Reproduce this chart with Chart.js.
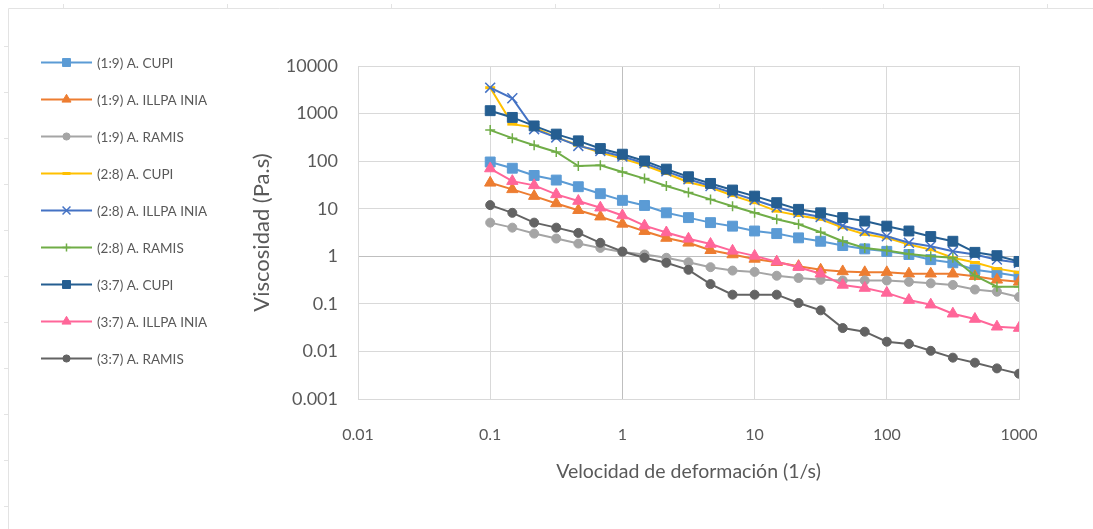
<!DOCTYPE html>
<html>
<head>
<meta charset="utf-8">
<script src="https://cdn.jsdelivr.net/npm/chart.js@4.4.1/dist/chart.umd.min.js"></script>
<style>
  html, body { margin: 0; padding: 0; background: #fff; }
</style>
</head>
<body>
<canvas id="chart" width="1093" height="529"></canvas>
<script>
// shear rate (1/s), 6 points per decade
const shearRate = [0.1, 0.147, 0.215, 0.316, 0.464, 0.681, 1, 1.47, 2.15, 3.16, 4.64, 6.81,
  10, 14.7, 21.5, 31.6, 46.4, 68.1, 100, 147, 215, 316, 464, 681, 1000]

// viscosity (Pa.s)
const cupi19 = [96, 71, 50, 40, 29, 20.7, 15, 11.7, 8.2, 6.5, 5.1, 4.3, 3.4, 3.0, 2.44, 2.07,
  1.68, 1.43, 1.27, 1.09, 0.85, 0.73, 0.52, 0.45, 0.38]
const illpa19 = [35, 25.5, 18.4, 12.9, 9.3, 6.8, 4.8, 3.37, 2.42, 1.92, 1.34, 1.09, 0.88, 0.75,
  0.62, 0.52, 0.48, 0.46, 0.46, 0.43, 0.43, 0.43, 0.38, 0.32, 0.29]
const ramis19 = [5.1, 4.0, 3.0, 2.36, 1.85, 1.5, 1.23, 1.09, 0.93, 0.75, 0.59, 0.5, 0.47, 0.39,
  0.35, 0.32, 0.31, 0.31, 0.31, 0.29, 0.27, 0.25, 0.2, 0.18, 0.14]
const cupi28 = [3500, 600, 510, 315, 216, 152, 113, 82, 55, 36, 28, 19, 13.4, 8.9, 7.2, 6.0,
  4.0, 2.9, 2.44, 1.77, 1.38, 0.93, 0.74, 0.55, 0.46]
const illpa28 = [3500, 2100, 470, 315, 209, 164, 125, 90, 61, 41.5, 30, 21.5, 15.3, 10.7, 8.2,
  6.7, 4.4, 3.37, 2.64, 1.92, 1.63, 1.27, 1.09, 0.85, 0.73]
const ramis28 = [450, 304, 216, 156, 79, 82, 59, 43, 30, 21.8, 15.7, 11.3, 8.2, 6.0, 4.7, 3.2,
  2.07, 1.5, 1.32, 1.12, 1.0, 0.93, 0.39, 0.23, 0.23]
const cupi37 = [1150, 830, 550, 370, 267, 184, 140, 101, 68, 47, 34, 24.7, 18.4, 13.4, 9.7, 8.2,
  6.5, 5.5, 4.3, 3.4, 2.6, 2.07, 1.21, 1.03, 0.78]
const illpa37 = [70, 38, 31, 20, 14.5, 10.5, 7.2, 4.4, 3.16, 2.33, 1.81, 1.3, 1.02, 0.77, 0.59,
  0.43, 0.25, 0.215, 0.17, 0.12, 0.096, 0.062, 0.048, 0.033, 0.031]
const ramis37 = [11.9, 8.2, 5.1, 4.0, 3.1, 1.92, 1.26, 0.93, 0.73, 0.52, 0.26, 0.156, 0.156,
  0.156, 0.104, 0.073, 0.031, 0.026, 0.016, 0.0144, 0.0103, 0.0074, 0.0058, 0.0044, 0.0034]

const xTicks = [0.01, 0.1, 1, 10, 100, 1000]
const yTicks = [0.001, 0.01, 0.1, 1, 10, 100, 1000, 10000]

const textColor = '#595959'
const gridColor = '#D9D9D9'
const fontFamily = 'Lato, sans-serif'

const series = [
  { label: '(1:9) A. CUPI', values: cupi19, color: '#5B9BD5', marker: 'rect', size: 7 },
  { label: '(1:9) A. ILLPA INIA', values: illpa19, color: '#ED7D31', marker: 'triangle', size: 6.5 },
  { label: '(1:9) A. RAMIS', values: ramis19, color: '#A5A5A5', marker: 'circle', size: 4.5 },
  { label: '(2:8) A. CUPI', values: cupi28, color: '#FFC000', marker: 'line', size: 5 },
  { label: '(2:8) A. ILLPA INIA', values: illpa28, color: '#4472C4', marker: 'crossRot', size: 7 },
  { label: '(2:8) A. RAMIS', values: ramis28, color: '#70AD47', marker: 'cross', size: 5 },
  { label: '(3:7) A. CUPI', values: cupi37, color: '#255E91', marker: 'rect', size: 7 },
  { label: '(3:7) A. ILLPA INIA', values: illpa37, color: '#FF6699', marker: 'triangle', size: 6.5 },
  { label: '(3:7) A. RAMIS', values: ramis37, color: '#636363', marker: 'circle', size: 4.5 }
]

const datasets = series.map((s, i) => ({
  label: s.label,
  data: shearRate.map((x, j) => ({ x: x, y: s.values[j] })),
  borderColor: s.color,
  backgroundColor: s.color,
  borderWidth: 2,
  pointStyle: s.marker,
  pointRadius: s.size,
  pointBackgroundColor: s.color,
  pointBorderColor: s.color,
  pointBorderWidth: s.marker === 'line' ? 3 : (s.marker === 'cross' || s.marker === 'crossRot' ? 1.5 : 1),
  tension: 0,
  order: series.length - i
}))

// excel-like frame + legend on the left
const sheetFrame = {
  id: 'sheetFrame',
  beforeDraw(chart) {
    const ctx = chart.ctx
    ctx.save()
    ctx.fillStyle = '#fff'
    ctx.fillRect(0, 0, chart.width, chart.height)
    ctx.strokeStyle = '#E3E3E3'
    ctx.lineWidth = 1
    ctx.beginPath()
    ctx.moveTo(8.5, 529); ctx.lineTo(8.5, 8.5); ctx.lineTo(1093, 8.5)
    for (let x = 63; x < 1093; x += 164) { ctx.moveTo(x + 0.5, 4); ctx.lineTo(x + 0.5, 8) }
    for (let y = 46; y < 529; y += 46) { ctx.moveTo(4, y + 0.5); ctx.lineTo(8, y + 0.5) }
    ctx.stroke()
    ctx.restore()
  }
}

const sideLegend = {
  id: 'sideLegend',
  afterDraw(chart) {
    const ctx = chart.ctx
    chart.data.datasets.forEach((ds, i) => {
      const y = 62.5 + i * 37
      ctx.save()
      ctx.strokeStyle = ds.borderColor
      ctx.lineWidth = 2
      ctx.beginPath()
      ctx.moveTo(41, y)
      ctx.lineTo(92, y)
      ctx.stroke()
      ctx.fillStyle = ds.pointBackgroundColor
      ctx.strokeStyle = ds.pointBorderColor
      ctx.lineWidth = ds.pointBorderWidth
      Chart.helpers.drawPoint(ctx, {
        pointStyle: ds.pointStyle,
        radius: ds.pointRadius * 0.8,
        borderWidth: ds.pointBorderWidth,
        rotation: 0
      }, 66.5, y)
      ctx.fillStyle = textColor
      ctx.font = '13.5px ' + fontFamily
      ctx.textBaseline = 'middle'
      ctx.fillText(ds.label, 97, y + 1)
      ctx.restore()
    })
  }
}

new Chart(document.getElementById('chart'), {
  type: 'line',
  data: { datasets: datasets },
  plugins: [sheetFrame, sideLegend],
  options: {
    responsive: false,
    animation: false,
    layout: { padding: { left: 240, right: 74, top: 66, bottom: 30 } },
    plugins: {
      legend: { display: false },
      tooltip: { enabled: false }
    },
    scales: {
      x: {
        type: 'logarithmic',
        min: 0.01,
        max: 1000,
        afterBuildTicks: (scale) => { scale.ticks = xTicks.map(v => ({ value: v })) },
        afterFit: (scale) => { scale.height = 100 },
        grid: {
          color: (c) => c.tick && c.tick.value === 1 ? '#BFBFBF' : gridColor,
          drawTicks: false
        },
        border: { color: gridColor },
        ticks: {
          autoSkip: false,
          maxRotation: 0,
          padding: 26,
          color: textColor,
          font: { family: fontFamily, size: 16 },
          callback: (v) => String(v)
        },
        title: {
          display: true,
          text: 'Velocidad de deformación (1/s)',
          color: textColor,
          font: { family: fontFamily, size: 19.5 },
          padding: { top: 0, bottom: 16 }
        }
      },
      y: {
        type: 'logarithmic',
        min: 0.001,
        max: 10000,
        afterBuildTicks: (scale) => { scale.ticks = yTicks.map(v => ({ value: v })) },
        afterFit: (scale) => { scale.width = 118 },
        grid: {
          color: (c) => c.tick && c.tick.value === 1 ? '#BFBFBF' : gridColor,
          drawTicks: false
        },
        border: { color: gridColor },
        ticks: {
          autoSkip: false,
          padding: 20,
          color: textColor,
          font: { family: fontFamily, size: 18 },
          callback: (v) => String(v)
        },
        title: {
          display: true,
          text: 'Viscosidad (Pa.s)',
          color: textColor,
          font: { family: fontFamily, size: 22 },
          padding: { top: 9, bottom: 0 }
        }
      }
    }
  }
})
</script>
</body>
</html>
